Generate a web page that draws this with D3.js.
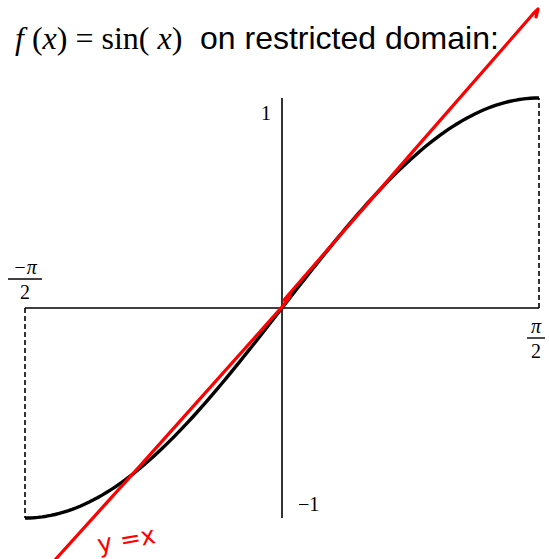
<!DOCTYPE html>
<html>
<head>
<meta charset="utf-8">
<script src="https://cdn.jsdelivr.net/npm/d3@7/dist/d3.min.js"></script>
<style>
  html, body { margin: 0; padding: 0; background: #fff; }
  svg { display: block; }
</style>
</head>
<body>
<svg id="chart" width="549" height="559"></svg>
<script>
// Domain of the restricted sine and sample positions along it
const domainX = [-Math.PI / 2, Math.PI / 2];
const rangeY = [-1, 1];
const sampleCount = 121;
const sampleX = d3.range(sampleCount).map(i => domainX[0] + (domainX[1] - domainX[0]) * i / (sampleCount - 1));

// Hand-drawn reference line y = x (data coordinates)
const guideX = [-1.388, -0.868, 0.006, 0.049, 0.012, 0.086, 0.782, 1.534, 1.565, 1.553];
const guideY = [-1.200, -0.752, 0.010, 0.057, 0.038, 0.105, 0.729, 1.400, 1.424, 1.386];

// Axis tick labels
const yTickLabels = ["1", "\u22121"];
const xTickNumer = ["\u2212\u03C0", "\u03C0"];
const xTickDenom = ["2", "2"];

const svg = d3.select("#chart");

const x = d3.scaleLinear().domain(domainX).range([25, 539]);
const y = d3.scaleLinear().domain(rangeY).range([518, 98]);

// Title
const title = svg.append("text")
  .attr("x", 15).attr("y", 49)
  .attr("xml:space", "preserve")
  .style("font-family", "'Liberation Serif', 'Times New Roman', serif")
  .style("font-size", "32px")
  .attr("fill", "#000");
title.append("tspan").style("font-style", "italic").text("f");
title.append("tspan").text(" (");
title.append("tspan").style("font-style", "italic").text("x");
title.append("tspan").text(") = sin( ");
title.append("tspan").style("font-style", "italic").text("x");
title.append("tspan").text(")");

svg.append("text")
  .attr("x", 200).attr("y", 49)
  .style("font-family", "'Liberation Sans', Arial, sans-serif")
  .style("font-size", "32px")
  .attr("fill", "#000")
  .text("on restricted domain:");

// Axes
svg.append("line")
  .attr("x1", x(domainX[0])).attr("x2", x(domainX[1]))
  .attr("y1", y(0)).attr("y2", y(0))
  .attr("stroke", "#000").attr("stroke-width", 1.6);
svg.append("line")
  .attr("x1", x(0)).attr("x2", x(0))
  .attr("y1", y(1)).attr("y2", y(-1))
  .attr("stroke", "#000").attr("stroke-width", 1.6);

// Dashed drop lines at the domain ends
const dropLines = [[domainX[0], -1], [domainX[1], 1]];
svg.selectAll("line.drop").data(dropLines).enter().append("line")
  .attr("class", "drop")
  .attr("x1", d => x(d[0])).attr("x2", d => x(d[0]))
  .attr("y1", y(0)).attr("y2", d => y(d[1]))
  .attr("stroke", "#000").attr("stroke-width", 1.6)
  .attr("stroke-dasharray", "5,3");

// sin(x) curve
const curve = d3.line().x(d => x(d)).y(d => y(Math.sin(d)));
svg.append("path")
  .attr("d", curve(sampleX))
  .attr("fill", "none").attr("stroke", "#000")
  .attr("stroke-width", 3.4).attr("stroke-linejoin", "round");

// y tick labels
const serif = "'Liberation Serif', 'Times New Roman', serif";
svg.append("text")
  .attr("x", x(0) - 11).attr("y", y(1) + 22)
  .attr("text-anchor", "end")
  .style("font-family", serif).style("font-size", "20px")
  .text(yTickLabels[0]);
svg.append("text")
  .attr("x", x(0) + 16).attr("y", y(-1) - 7)
  .style("font-family", serif).style("font-size", "20px")
  .text(yTickLabels[1]);

// x tick labels as stacked fractions
const fracPos = [
  { cx: x(domainX[0]), barY: y(0) - 29 },
  { cx: x(domainX[1]) - 3, barY: y(0) + 30 }
];
fracPos.forEach((p, i) => {
  const g = svg.append("g");
  g.append("text")
    .attr("x", p.cx).attr("y", p.barY - 5)
    .attr("text-anchor", "middle")
    .style("font-family", serif).style("font-size", "20px").style("font-style", "italic")
    .text(xTickNumer[i]);
  const w = i === 0 ? 34 : 18;
  g.append("line")
    .attr("x1", p.cx - w / 2).attr("x2", p.cx + w / 2)
    .attr("y1", p.barY).attr("y2", p.barY)
    .attr("stroke", "#000").attr("stroke-width", 1.4);
  g.append("text")
    .attr("x", p.cx).attr("y", p.barY + 20)
    .attr("text-anchor", "middle")
    .style("font-family", serif).style("font-size", "20px")
    .text(xTickDenom[i]);
});

// Red y = x guide
const guide = d3.line().x(d => x(d[0])).y(d => y(d[1])).curve(d3.curveLinear);
svg.append("path")
  .attr("d", guide(guideX.map((v, i) => [v, guideY[i]])))
  .attr("fill", "none").attr("stroke", "#ff0000")
  .attr("stroke-width", 3.2).attr("stroke-linecap", "round").attr("stroke-linejoin", "round");

svg.append("text")
  .attr("x", 99).attr("y", 553)
  .attr("transform", "rotate(-10 99 553)")
  .attr("xml:space", "preserve")
  .style("font-family", "'DejaVu Sans', sans-serif")
  .style("font-size", "25px")
  .attr("fill", "#ff0000")
  .text("y =x");
</script>
</body>
</html>
